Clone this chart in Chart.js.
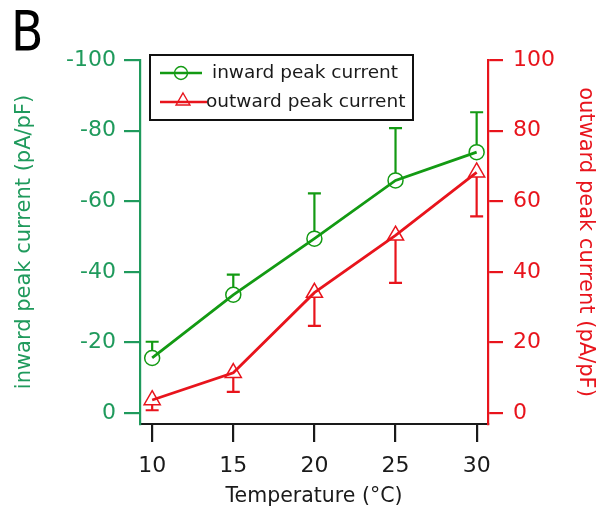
<!DOCTYPE html>
<html><head><meta charset="utf-8">
<script src="https://cdn.jsdelivr.net/npm/chart.js@4.4.1/dist/chart.umd.min.js"></script>
<style>html,body{margin:0;padding:0;background:#fff}canvas{display:block}</style>
</head><body>
<canvas id="c" width="610" height="514"></canvas>
<script>
const temperatures = [10, 15, 20, 25, 30];
const inwardPeak = [-15.6, -33.5, -49.4, -65.9, -73.9];
const inwardErr = [4.6, 5.7, 12.8, 14.8, 11.3];
const outwardPeak = [3.7, 11.4, 34.1, 50.3, 68.2];
const outwardErr = [2.9, 5.4, 9.4, 13.4, 12.5];
const xTicks = [10, 15, 20, 25, 30];
const inwardTicks = [-100, -80, -60, -40, -20, 0];
const outwardTicks = [0, 20, 40, 60, 80, 100];
const seriesNames = ['inward peak current', 'outward peak current'];
const panelLabel = 'B';
const xTitle = 'Temperature (\u00B0C)';
const yLeftTitle = 'inward peak current (pA/pF)';
const yRightTitle = 'outward peak current (pA/pF)';

const axisGreen = '#1f9a5c';
const dataGreen = '#139a13';
const red = '#e8141c';
const dark = '#1a1a1a';
const FONT = "'DejaVu Sans', sans-serif";
Chart.defaults.font.family = FONT;

const errorBars = {
  id: 'errorBars',
  afterDatasetsDraw(chart) {
    const ctx = chart.ctx;
    chart.data.datasets.forEach((ds) => {
      const xs = chart.scales.x, ys = chart.scales[ds.yAxisID];
      ctx.save();
      ctx.strokeStyle = ds.borderColor; ctx.lineWidth = 2.2;
      ds.errors.forEach((e, j) => {
        const p = ds.data[j];
        const px = xs.getPixelForValue(p.x);
        const py = ys.getPixelForValue(p.y);
        const pe = ys.getPixelForValue(p.y - e);
        const dir = Math.sign(pe - py);
        const start = py + dir * ds.errGap;
        ctx.beginPath();
        ctx.moveTo(px, start); ctx.lineTo(px, pe);
        ctx.moveTo(px - 6.5, pe); ctx.lineTo(px + 6.5, pe);
        ctx.stroke();
      });
      ctx.restore();
    });
  }
};

function tri(ctx, x, y, r) {
  ctx.beginPath();
  ctx.moveTo(x, y - r);
  ctx.lineTo(x + r * Math.sin(2 * Math.PI / 3), y - r * Math.cos(2 * Math.PI / 3));
  ctx.lineTo(x - r * Math.sin(2 * Math.PI / 3), y - r * Math.cos(2 * Math.PI / 3));
  ctx.closePath();
  ctx.stroke();
}

const overlay = {
  id: 'overlay',
  afterDraw(chart) {
    const { ctx, chartArea: a } = chart;
    ctx.save();
    ctx.fillStyle = '#000';
    ctx.font = "55px " + FONT;
    ctx.textBaseline = 'alphabetic';
    ctx.textAlign = 'left';
    ctx.save();
    ctx.translate(11, 50);
    ctx.scale(0.86, 1);
    ctx.fillText(panelLabel, 0, 0);
    ctx.restore();

    const bx = a.left + 10, by = a.top - 5, bw = 263, bh = 65;
    ctx.fillStyle = '#fff';
    ctx.fillRect(bx, by, bw, bh);
    ctx.lineWidth = 2; ctx.strokeStyle = '#111';
    ctx.strokeRect(bx, by, bw, bh);

    const y1 = by + 18, y2 = by + 47;
    ctx.lineWidth = 2.6;
    ctx.strokeStyle = dataGreen;
    ctx.beginPath(); ctx.moveTo(bx + 10, y1); ctx.lineTo(bx + 52, y1); ctx.stroke();
    ctx.lineWidth = 1.4;
    ctx.beginPath(); ctx.arc(bx + 31, y1, 6.5, 0, Math.PI * 2); ctx.stroke();
    ctx.lineWidth = 2.6;
    ctx.strokeStyle = red;
    ctx.beginPath(); ctx.moveTo(bx + 10, y2); ctx.lineTo(bx + 57, y2); ctx.stroke();
    ctx.lineWidth = 1.4;
    tri(ctx, bx + 33, y2 - 1, 8);

    ctx.fillStyle = '#1a1a1a';
    ctx.font = "18.5px " + FONT;
    ctx.textBaseline = 'middle';
    ctx.fillText(seriesNames[0], bx + 62, y1);
    ctx.fillText(seriesNames[1], bx + 56, y2);
    ctx.restore();
  }
};

new Chart(document.getElementById('c'), {
  type: 'line',
  data: {
    datasets: [
      {
        label: seriesNames[0],
        data: temperatures.map((t, i) => ({ x: t, y: inwardPeak[i] })),
        yAxisID: 'yL',
        borderColor: dataGreen, borderWidth: 2.8,
        pointStyle: 'circle', pointRadius: 7.5, pointBorderWidth: 1.5,
        pointBackgroundColor: 'rgba(0,0,0,0)', pointBorderColor: dataGreen,
        tension: 0, fill: false, clip: false,
        errors: inwardErr, errGap: 7.5
      },
      {
        label: seriesNames[1],
        data: temperatures.map((t, i) => ({ x: t, y: outwardPeak[i] })),
        yAxisID: 'yR',
        borderColor: red, borderWidth: 2.8,
        pointStyle: 'triangle', pointRadius: 9.3, pointBorderWidth: 1.5,
        pointBackgroundColor: 'rgba(0,0,0,0)', pointBorderColor: red,
        tension: 0, fill: false, clip: false,
        errors: outwardErr, errGap: 4.65
      }
    ]
  },
  options: {
    responsive: false,
    animation: false,
    devicePixelRatio: 1,
    layout: { padding: { top: 60, left: 0, right: 0, bottom: 0 } },
    plugins: { legend: { display: false }, tooltip: { enabled: false } },
    scales: {
      x: {
        type: 'linear', position: 'bottom', min: 9.25, max: 30.7,
        afterBuildTicks: s => { s.ticks = xTicks.map(v => ({ value: v })); },
        afterFit: s => { s.height = 90; },
        border: { display: true, color: dark, width: 2 },
        grid: { drawOnChartArea: false, drawTicks: true, tickLength: 18, color: dark, lineWidth: 2.2 },
        ticks: { color: '#1a1a1a', font: { size: 22 }, padding: 11, maxRotation: 0, autoSkip: false, callback: v => String(v) },
        title: { display: true, text: xTitle, color: '#1a1a1a', font: { size: 20.5 }, padding: { top: 0, bottom: 5 } }
      },
      yL: {
        type: 'linear', position: 'left', min: -100, max: 3.1, reverse: true,
        afterBuildTicks: s => { s.ticks = inwardTicks.map(v => ({ value: v })); },
        afterFit: s => { s.width = 140; },
        border: { display: true, color: axisGreen, width: 2.2 },
        grid: { drawOnChartArea: false, tickLength: 16, color: axisGreen, lineWidth: 2.2 },
        ticks: { color: axisGreen, font: { size: 22 }, padding: 8, autoSkip: false, callback: v => String(v) },
        title: { display: true, text: yLeftTitle, color: axisGreen, font: { size: 21 }, padding: { top: 12, bottom: 0 } }
      },
      yR: {
        type: 'linear', position: 'right', min: -3.1, max: 100,
        afterBuildTicks: s => { s.ticks = outwardTicks.map(v => ({ value: v })); },
        afterFit: s => { s.width = 122; },
        border: { display: true, color: red, width: 2.2 },
        grid: { drawOnChartArea: false, tickLength: 15, color: red, lineWidth: 2.2 },
        ticks: { color: red, font: { size: 22 }, padding: 10, autoSkip: false, callback: v => String(v) },
        title: { display: true, text: yRightTitle, color: red, font: { size: 21 }, padding: { top: 12, bottom: 0 } }
      }
    }
  },
  plugins: [errorBars, overlay]
});
</script>
</body></html>
